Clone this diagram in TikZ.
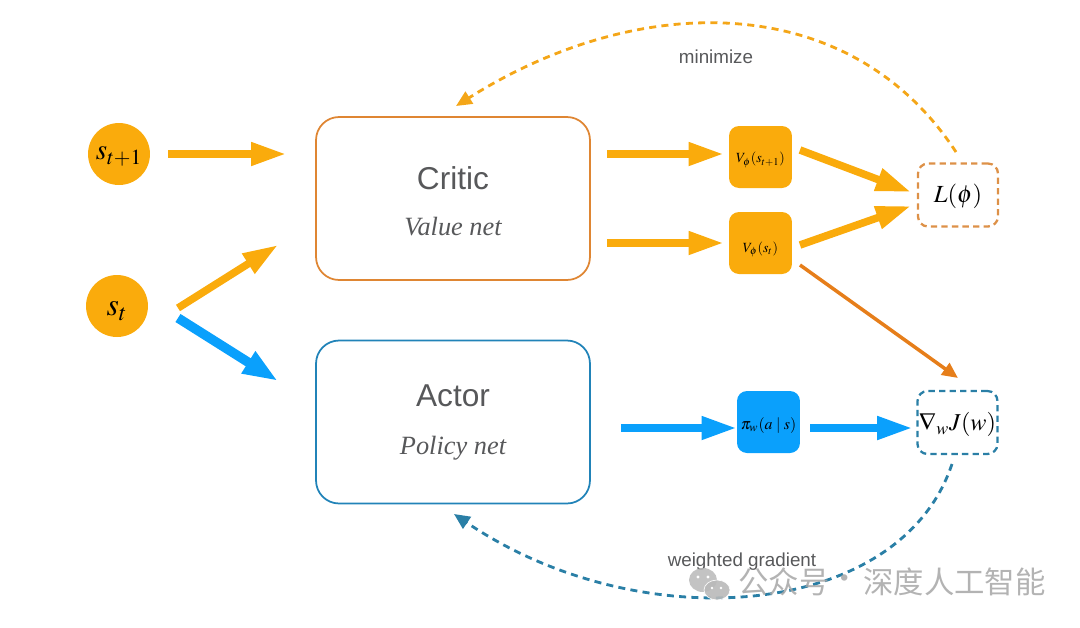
\documentclass[tikz,border=0pt]{standalone}
\usepackage{mathptmx}
\usepackage[no-math]{fontspec}
\setmainfont{Liberation Sans}
\newfontfamily\serifit[Scale=1]{Liberation Serif}
\newfontfamily\cjk{Noto Sans CJK SC}
\usetikzlibrary{arrows.meta}
\definecolor{amber}{HTML}{FAAB0C}
\definecolor{skyblue}{HTML}{0AA0FC}
\definecolor{critline}{HTML}{DF8633}
\definecolor{actline}{HTML}{2183B8}
\definecolor{tealdash}{HTML}{2A7FA6}
\definecolor{lossdash}{HTML}{DD9148}
\definecolor{lossarrow}{HTML}{E67E1A}
\definecolor{inkgray}{HTML}{57585A}
% size, drop below centre, formula
\newcommand{\boxmath}[3]{\raisebox{-#2pt}[0pt][0pt]{\fontsize{#1}{#1}\selectfont $#3$}}
\tikzset{
  statenode/.style={circle,fill=amber,minimum size=1.24cm,inner sep=0pt},
  netbox/.style={draw,rounded corners=0.46cm,line width=1pt,minimum width=5.48cm,minimum height=3.26cm},
  outbox/.style={rounded corners=0.2cm,minimum width=1.26cm,minimum height=1.24cm,inner sep=0pt},
  lossbox/.style={draw,dash pattern=on 3.6pt off 2.4pt,line width=1.3pt,rounded corners=0.2cm,minimum width=1.6cm,minimum height=1.26cm,inner sep=0pt},
  bigarrow/.style={line width=4.3pt,-{Triangle[length=20pt,width=12.5pt]}},
  fatarrow/.style={line width=5.4pt,-{Triangle[length=20pt,width=13.5pt]}},
  thinarrow/.style={line width=2pt,color=lossarrow,-{Triangle[length=9pt,width=8pt]}},
  backarrow/.style={line width=1.6pt,dash pattern=on 4pt off 3pt,-{Triangle[length=9pt,width=8pt]}},
  nettitle/.style={text=inkgray,font=\fontsize{18}{20}\selectfont},
  netsub/.style={text=inkgray,font=\fontsize{15}{17}\selectfont\serifit\itshape},
  notelabel/.style={text=inkgray,font=\fontsize{10.7}{12}\selectfont},
  markfont/.style={text=gray!70,opacity=0.85,font=\fontsize{17.3}{20}\selectfont\cjk},
}
\begin{document}
\begin{tikzpicture}[x=0.02cm,y=-0.02cm]
\useasboundingbox (0,0) rectangle (1080,627);
% inputs
\path (119,154) node[statenode] (snext) {\boxmath{16.5}{3.4}{s_{t+1}}};
\path (117,306) node[statenode] (scur) {\boxmath{18}{5.5}{s_t}};
% networks
\path (453,198.5) node[netbox,color=critline] (critic) {};
\path (453,422) node[netbox,color=actline] (actor) {};
\path (453,178) node[nettitle] (crittitle) {Critic};
\path (453,227) node[netsub] (critsub) {Value net};
\path (453,396) node[nettitle] (acttitle) {Actor};
\path (453,448) node[netsub] (actsub) {Policy net};
% outputs
\path (760.5,157) node[outbox,fill=amber] (vnext) {\boxmath{8}{3.4}{V_\phi(s_{t+1})}};
\path (760.5,243) node[outbox,fill=amber] (vcur) {\boxmath{8}{5.2}{V_\phi(s_t)}};
\path (768.5,422) node[outbox,fill=skyblue] (policy) {\boxmath{9}{4}{\pi_w(a\mid s)}};
\path (958,195) node[lossbox,color=lossdash,text=black] (loss) {\boxmath{14}{4}{L(\phi)}};
\path (957.5,422.5) node[lossbox,color=tealdash,text=black] (grad) {\boxmath{13.8}{4.6}{\nabla_w J(w)}};
% free ends
\coordinate (stup) at (178,308);
\coordinate (stupend) at (278,245);
\coordinate (stdown) at (178,318);
\coordinate (stdownend) at (278,381);
\coordinate (vnextout) at (800,150);
\coordinate (vcurout) at (800,245);
\coordinate (lossinup) at (911,192);
\coordinate (lossindown) at (911,206);
\coordinate (vcurlow) at (800,265);
\coordinate (gradtop) at (958,378);
\coordinate (losstop) at (956,152);
\coordinate (crittop) at (456,106);
\coordinate (gradlow) at (952,464);
\coordinate (actlow) at (454,514);
% amber arrows
\draw[bigarrow,color=amber,shorten <=0.36cm,shorten >=0.58cm] (snext) -- (critic.west |- snext);
\draw[bigarrow,color=amber] (stup) -- (stupend);
\draw[bigarrow,color=amber,shorten <=0.32cm,shorten >=0.1cm] (critic.east |- 0,154) -- (vnext.west |- 0,154);
\draw[bigarrow,color=amber,shorten <=0.32cm,shorten >=0.1cm] (critic.east |- vcur) -- (vcur.west);
\draw[bigarrow,color=amber] (vnextout) -- (lossinup);
\draw[bigarrow,color=amber] (vcurout) -- (lossindown);
% blue arrows
\draw[fatarrow,color=skyblue] (stdown) -- (stdownend);
\draw[bigarrow,color=skyblue,shorten <=0.6cm,shorten >=0cm] (actor.east |- 0,428) -- (policy.west |- 0,428);
\draw[bigarrow,color=skyblue,shorten <=0.2cm,shorten >=0.08cm] (policy.east |- 0,428) -- (grad.west |- 0,428);
% loss to gradient
\draw[thinarrow] (vcurlow) -- (gradtop);
% back paths
\draw[backarrow,color=amber!80!lossdash] (losstop) .. controls (850,-10) and (640,-10) .. (crittop);
\draw[backarrow,color=tealdash] (gradlow) .. controls (900,620) and (640,640) .. (actlow);
\path (716,57) node[notelabel] (minlabel) {minimize};
\path (742,562) node[notelabel] (gradlabel) {weighted gradient};
% watermark
\fill[gray!55,opacity=0.85] (703,580) ellipse (14 and 12);
\filldraw[fill=gray!55,draw=white,opacity=0.9] (717,590) ellipse (13 and 10);
\fill[white] (698,577) circle (1.6) (708,577) circle (1.6) (712,588) circle (1.4) (721,588) circle (1.4);
\path (784,582) node[markfont] (markone) {公众号};
\path (845,582) node[markfont] (markdot) {·};
\path (954.5,582) node[markfont] (marktwo) {深度人工智能};
\end{tikzpicture}
\end{document}
